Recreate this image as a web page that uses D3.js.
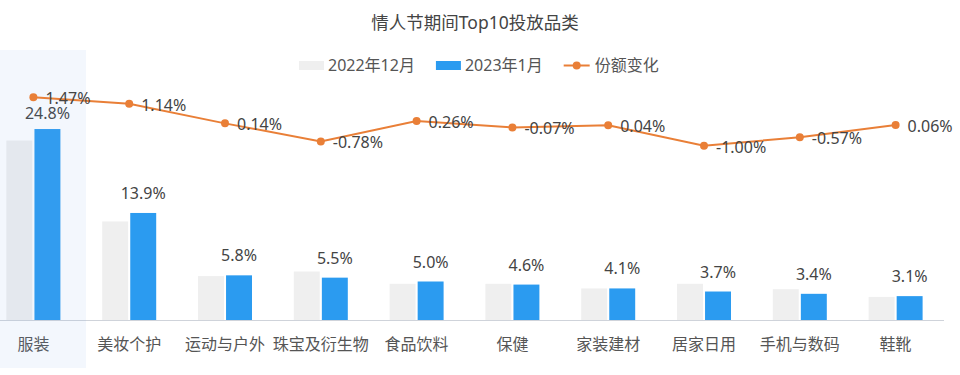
<!DOCTYPE html>
<html>
<head>
<meta charset="utf-8">
<script src="https://cdn.jsdelivr.net/npm/d3@7"></script>
<style>
  body { margin: 0; background: #fff; }
  svg { font-family: "Noto Sans", "Noto Sans CJK SC", sans-serif; }
</style>
</head>
<body>
<script>
// Top10 categories, Valentine's period
const categories = ["服装", "美妆个护", "运动与户外", "珠宝及衍生物", "食品饮料", "保健", "家装建材", "居家日用", "手机与数码", "鞋靴"];
const dec2022 = [23.3, 12.8, 5.7, 6.3, 4.7, 4.7, 4.1, 4.7, 4.0, 3.0];
const jan2023 = [24.8, 13.9, 5.8, 5.5, 5.0, 4.6, 4.1, 3.7, 3.4, 3.1];
const shareChange = [1.47, 1.14, 0.14, -0.78, 0.26, -0.07, 0.04, -1.00, -0.57, 0.06];
const seriesNames = ["2022年12月", "2023年1月", "份额变化"];

const width = 960, height = 375;
const colors = {dec: "#efefef", jan: "#2b9bf0", line: "#e97f37"};

const svg = d3.select("body").append("svg")
    .attr("width", width)
    .attr("height", height);

const x = d3.scaleBand().domain(categories).range([-14.5, 943.5]).padding(0);
const xSub = d3.scaleBand().domain(["dec", "jan"]).range([-27, 27]).paddingInner(0.075);
const y = d3.scaleLinear().domain([0, 30]).range([320, 89]);
const y2 = d3.scaleLinear().domain([-1.5, 1.5]).range([155.5, 96.7]);

const cx = d => x(d) + x.bandwidth() / 2;

// title
svg.append("text")
    .attr("x", 475).attr("y", 29)
    .attr("text-anchor", "middle")
    .attr("font-size", 17.5)
    .attr("fill", "#444")
    .text("情人节期间Top10投放品类");

// legend
const legend = svg.append("g").attr("font-size", 16).attr("fill", "#555");
let lx = 299;
[["dec", seriesNames[0]], ["jan", seriesNames[1]]].forEach(([k, name]) => {
  legend.append("rect").attr("x", lx).attr("y", 61).attr("width", 25).attr("height", 9).attr("fill", colors[k]);
  const t = legend.append("text").attr("x", lx + 29).attr("y", 71).text(name);
  lx += 29 + t.node().getComputedTextLength() + 21;
});
legend.append("line").attr("x1", lx).attr("x2", lx + 26).attr("y1", 65.5).attr("y2", 65.5)
    .attr("stroke", colors.line).attr("stroke-width", 2);
legend.append("circle").attr("cx", lx + 13).attr("cy", 65.5).attr("r", 4).attr("fill", colors.line);
legend.append("text").attr("x", lx + 31).attr("y", 71).text(seriesNames[2]);

// x axis
const xAxis = svg.append("g")
    .attr("transform", "translate(0,320)")
    .call(d3.axisBottom(x).tickSize(0).tickPadding(19));
xAxis.select(".domain").attr("stroke", "#cfd3da");
xAxis.selectAll("text")
    .attr("font-size", 16)
    .attr("fill", "#555")
    .attr("font-family", "\"Noto Sans CJK SC\", \"Noto Sans\", sans-serif");

// bars
const groups = svg.append("g").selectAll("g")
    .data(categories.map((c, i) => ({c, dec: dec2022[i], jan: jan2023[i], chg: shareChange[i]})))
    .join("g")
    .attr("transform", d => `translate(${cx(d.c)},0)`);

groups.selectAll("rect")
    .data(d => ["dec", "jan"].map(k => ({k, v: d[k]})))
    .join("rect")
    .attr("x", d => xSub(d.k))
    .attr("width", xSub.bandwidth())
    .attr("y", d => y(d.v))
    .attr("height", d => y(0) - y(d.v))
    .attr("fill", d => colors[d.k]);

// value labels, pushed down if they would hit the line label
groups.append("text")
    .attr("x", xSub("jan") + xSub.bandwidth() / 2)
    .attr("y", d => Math.max(y(d.jan) - 14, y2(d.chg) + 22))
    .attr("text-anchor", "middle")
    .attr("font-size", 16)
    .attr("fill", "#444")
    .text(d => d.jan.toFixed(1) + "%");

// hover shadow on first category
svg.append("rect")
    .attr("x", x(categories[0]))
    .attr("y", 50)
    .attr("width", 100.5)
    .attr("height", 318)
    .attr("fill", "rgba(120,170,235,0.09)");

// share change line
const lineData = categories.map((c, i) => ({c, v: shareChange[i]}));
svg.append("path")
    .datum(lineData)
    .attr("fill", "none")
    .attr("stroke", colors.line)
    .attr("stroke-width", 2)
    .attr("d", d3.line().x(d => cx(d.c)).y(d => y2(d.v)));

svg.append("g").selectAll("circle")
    .data(lineData)
    .join("circle")
    .attr("cx", d => cx(d.c))
    .attr("cy", d => y2(d.v))
    .attr("r", 4)
    .attr("fill", colors.line);

svg.append("g").selectAll("text")
    .data(lineData)
    .join("text")
    .attr("x", d => cx(d.c) + 12)
    .attr("y", d => y2(d.v) + 7)
    .attr("font-size", 16)
    .attr("fill", "#444")
    .text(d => d.v.toFixed(2) + "%");
</script>
</body>
</html>
